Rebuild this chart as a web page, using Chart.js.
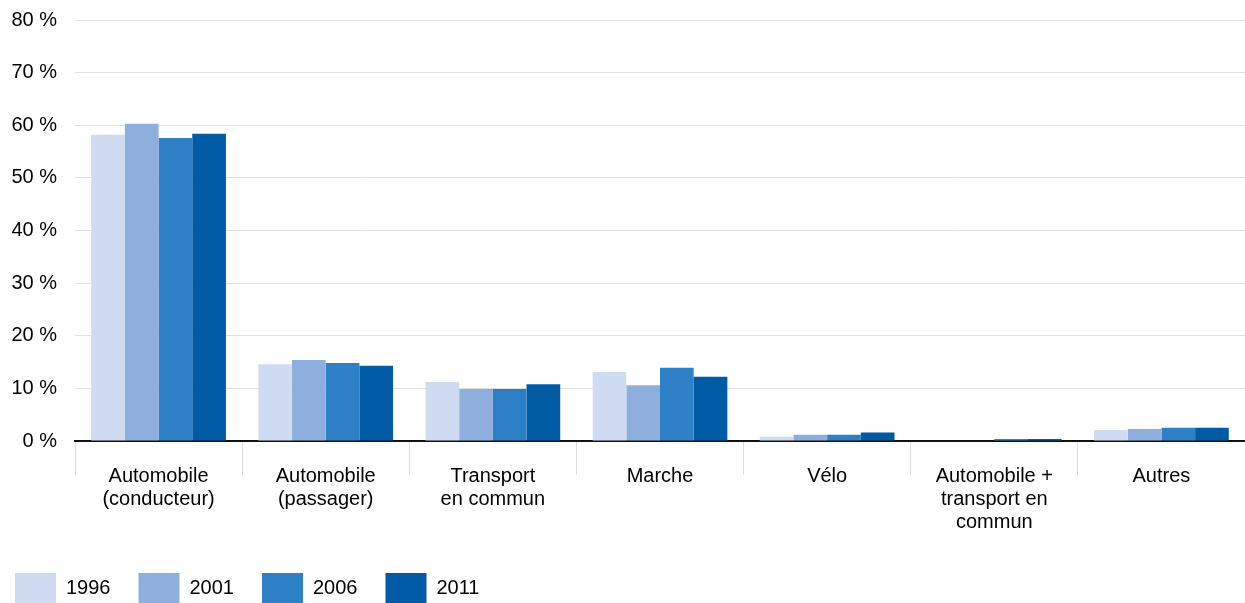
<!DOCTYPE html>
<html>
<head>
<meta charset="utf-8">
<script src="https://cdn.jsdelivr.net/npm/chart.js@4/dist/chart.umd.min.js"></script>
<style>
  html, body { margin: 0; padding: 0; background: #ffffff; }
  #wrap { width: 1245px; height: 603px; position: relative; }
</style>
</head>
<body>
<div id="wrap"><canvas id="c"></canvas></div>
<script>
const categories = [
  ["Automobile", "(conducteur)"],
  ["Automobile", "(passager)"],
  ["Transport", "en commun"],
  "Marche",
  "Vélo",
  ["Automobile +", "transport en", "commun"],
  "Autres"
];
const seriesNames = ["1996", "2001", "2006", "2011"];
const v1996 = [58.2, 14.6, 11.2, 13.1, 0.8, 0.0, 2.1];
const v2001 = [60.3, 15.4, 9.9, 10.6, 1.2, 0.0, 2.3];
const v2006 = [57.6, 14.8, 9.9, 13.9, 1.2, 0.4, 2.5];
const v2011 = [58.4, 14.3, 10.8, 12.2, 1.6, 0.4, 2.5];
const yTicks = [0, 10, 20, 30, 40, 50, 60, 70, 80];

const colors = ["#cfdbf1", "#8eafdd", "#2d80c5", "#005ba4"];
const values = [v1996, v2001, v2006, v2011];
const fontFamily = "'Liberation Sans', Arial, Helvetica, sans-serif";

new Chart(document.getElementById('c'), {
  type: 'bar',
  data: {
    labels: categories,
    datasets: seriesNames.map((name, i) => ({
      label: name,
      data: values[i],
      backgroundColor: colors[i],
      borderWidth: 0,
      categoryPercentage: 0.806,
      barPercentage: 1.0
    }))
  },
  options: {
    responsive: true,
    maintainAspectRatio: false,
    animation: false,
    layout: { padding: { top: 20, left: -13, right: -3, bottom: -10 } },
    plugins: {
      legend: {
        position: 'bottom',
        align: 'start',
        labels: {
          boxWidth: 41,
          boxHeight: 30,
          padding: 28,
          color: '#000000',
          font: { family: fontFamily, size: 20 }
        }
      },
      tooltip: { enabled: false }
    },
    scales: {
      x: {
        offset: true,
        grid: {
          display: true,
          drawOnChartArea: false,
          drawTicks: true,
          tickLength: 34,
          color: '#dddddd',
          lineWidth: 1,
          offset: true
        },
        border: { display: true, color: '#111111', width: 2 },
        ticks: {
          color: '#000000',
          padding: -10,
          maxRotation: 0,
          autoSkip: false,
          font: { family: fontFamily, size: 20, lineHeight: 1.15 }
        },
        afterFit: (s) => { s.height = 104; }
      },
      y: {
        min: 0,
        max: 80,
        afterBuildTicks: (s) => { s.ticks = yTicks.map(v => ({ value: v })); },
        grid: {
          color: '#e0e0e0',
          lineWidth: 1,
          drawTicks: true,
          tickLength: 18,
          tickColor: 'rgba(0,0,0,0)'
        },
        border: { display: false },
        ticks: {
          color: '#000000',
          padding: 0,
          font: { family: fontFamily, size: 20 },
          callback: (v) => v + ' %'
        },
        afterFit: (s) => { s.width = 88; }
      }
    }
  }
});
</script>
</body>
</html>
